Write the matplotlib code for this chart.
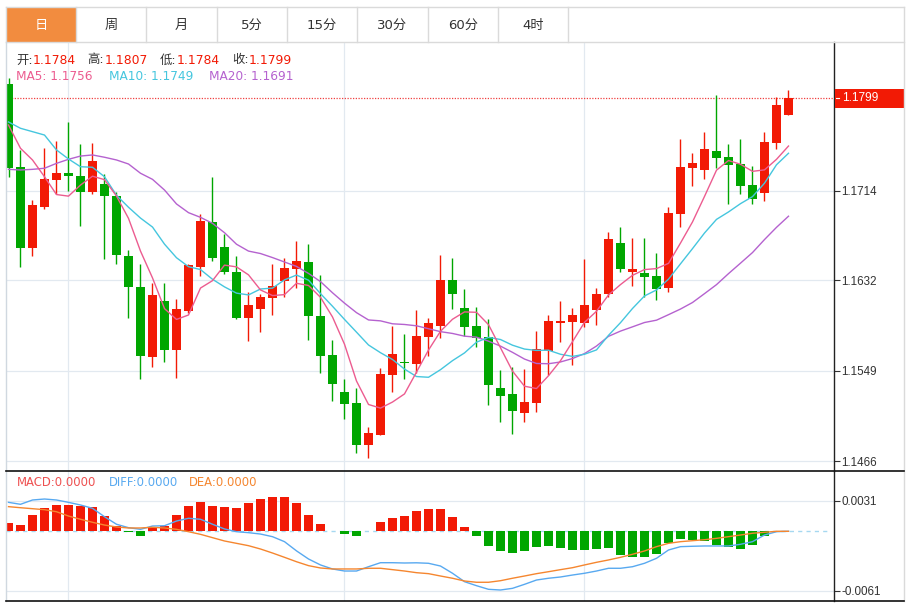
import numpy as np
import pandas as pd
import matplotlib
matplotlib.use("Agg")
import matplotlib.pyplot as plt
from matplotlib.patches import Rectangle
from matplotlib.transforms import blended_transform_factory

plt.rcParams['font.family'] = ['DejaVu Sans', 'Noto Sans CJK SC']

#%% data (daily candles, oldest first)
opens = [1.18123, 1.17363, 1.16619, 1.16993, 1.17244, 1.17305, 1.17275, 1.17128, 1.17202, 1.17094,
         1.16543, 1.16261, 1.15618, 1.16130, 1.15680, 1.16041, 1.16442, 1.16855, 1.16623, 1.16393,
         1.15976, 1.16053, 1.16160, 1.16316, 1.16421, 1.16491, 1.15992, 1.15634, 1.15294, 1.15190,
         1.14807, 1.14899, 1.15450, 1.15565, 1.15551, 1.15802, 1.15903, 1.16323, 1.16063, 1.15903,
         1.15796, 1.15333, 1.15273, 1.15104, 1.15190, 1.15673, 1.15930, 1.15934, 1.15925, 1.16047,
         1.16191, 1.16660, 1.16399, 1.16384, 1.16359, 1.16252, 1.16929, 1.17349, 1.17333, 1.17510,
         1.17450, 1.17388, 1.17195, 1.17122, 1.17578, 1.17840]
closes = [1.17354, 1.16619, 1.17009, 1.17250, 1.17305, 1.17281, 1.17128, 1.17416, 1.17091, 1.16552,
          1.16256, 1.15625, 1.16185, 1.15680, 1.16056, 1.16460, 1.16862, 1.16525, 1.16393, 1.15976,
          1.16093, 1.16169, 1.16267, 1.16436, 1.16497, 1.15992, 1.15625, 1.15365, 1.15184, 1.14807,
          1.14915, 1.15459, 1.15643, 1.15557, 1.15811, 1.15925, 1.16323, 1.16194, 1.15894, 1.15793,
          1.15358, 1.15260, 1.15122, 1.15202, 1.15686, 1.15946, 1.15949, 1.15998, 1.16090, 1.16194,
          1.16696, 1.16424, 1.16424, 1.16353, 1.16240, 1.16935, 1.17358, 1.17394, 1.17523, 1.17446,
          1.17379, 1.17186, 1.17069, 1.17590, 1.17930, 1.17990]
highs = [1.18178, 1.17517, 1.17057, 1.17532, 1.17602, 1.17771, 1.17569, 1.17578, 1.17293, 1.17128,
         1.16598, 1.16472, 1.16298, 1.16292, 1.16145, 1.16470, 1.16929, 1.17271, 1.16745, 1.16543,
         1.16215, 1.16194, 1.16470, 1.16525, 1.16681, 1.16653, 1.16369, 1.15771, 1.15411, 1.15328,
         1.14975, 1.15517, 1.15900, 1.15824, 1.16047, 1.15976, 1.16552, 1.16527, 1.16237, 1.16072,
         1.15964, 1.15496, 1.15521, 1.15502, 1.15857, 1.16001, 1.16130, 1.16065, 1.16513, 1.16246,
         1.16766, 1.16812, 1.16711, 1.16711, 1.16568, 1.16990, 1.17615, 1.17492, 1.17679, 1.18022,
         1.17572, 1.17615, 1.17370, 1.17685, 1.18006, 1.18070]
lows = [1.17271, 1.16445, 1.16543, 1.16972, 1.17112, 1.17143, 1.16821, 1.17115, 1.16513, 1.16470,
        1.15976, 1.15416, 1.15526, 1.15572, 1.15425, 1.16017, 1.16362, 1.16500, 1.16378, 1.15967,
        1.15762, 1.15848, 1.16001, 1.16169, 1.16246, 1.15771, 1.15466, 1.15211, 1.15043, 1.14731,
        1.14690, 1.14899, 1.15291, 1.15411, 1.15466, 1.15625, 1.15787, 1.16053, 1.15808, 1.15710,
        1.15174, 1.15021, 1.14908, 1.15018, 1.15113, 1.15450, 1.15756, 1.15542, 1.15888, 1.15909,
        1.16169, 1.16399, 1.16270, 1.16164, 1.16139, 1.16215, 1.16812, 1.17186, 1.17250, 1.17349,
        1.17021, 1.17112, 1.17021, 1.17051, 1.17526, 1.17840]

# MA values at the left edge (they depend on candles before the visible window)
ma5_head = [1.17746, 1.17532, 1.17425, 1.17271]
ma10_head = [1.17774, 1.17716, 1.17685, 1.17654, 1.17517, 1.17434, 1.17363, 1.17358, 1.17271]
ma20_head = [1.17339, 1.17333, 1.17339, 1.17349, 1.17394, 1.17431, 1.17461, 1.17471, 1.17450, 1.17425,
             1.17388, 1.17303, 1.17247, 1.17149, 1.17021, 1.16941, 1.16898, 1.16843, 1.16757]

macd = [0.00088, 0.00064, 0.0017, 0.00238, 0.00266, 0.00272, 0.00262, 0.00252, 0.00156, 0.00054,
        -0.00005, -0.00045, 0.0004, 0.00054, 0.00167, 0.00262, 0.003, 0.00262, 0.00245, 0.00235,
        0.00286, 0.00327, 0.0035, 0.00348, 0.00289, 0.0017, 0.00075, 0.00006, -0.0003, -0.0005,
        0.00005, 0.00098, 0.00139, 0.00156, 0.00204, 0.00228, 0.00231, 0.00146, 0.00044, -0.00045,
        -0.0015, -0.00198, -0.00225, -0.00204, -0.00157, -0.0015, -0.00174, -0.00188, -0.00188, -0.00181,
        -0.00174, -0.00239, -0.0026, -0.00263, -0.00229, -0.00123, -0.00079, -0.00089, -0.00099, -0.0014,
        -0.0016, -0.00178, -0.00143, -0.00048, 0.0, 0.0]
diff = [0.00296, 0.00276, 0.0032, 0.0033, 0.0032, 0.00296, 0.00269, 0.00235, 0.00149, 0.00072,
        0.00037, 0.0002, 0.00054, 0.00057, 0.00105, 0.00133, 0.00123, 0.00072, 0.00024, -0.00004,
        -0.00014, -0.00028, -0.00055, -0.00106, -0.002, -0.00283, -0.00344, -0.00385, -0.00406, -0.00406,
        -0.00362, -0.00321, -0.00321, -0.00324, -0.00322, -0.00327, -0.00355, -0.00429, -0.00515, -0.00556,
        -0.00593, -0.006, -0.00583, -0.00542, -0.00498, -0.0048, -0.00467, -0.00447, -0.00429, -0.00406,
        -0.00378, -0.00378, -0.00362, -0.00327, -0.00276, -0.00191, -0.00157, -0.00153, -0.0015, -0.0015,
        -0.0015, -0.00133, -0.00106, -0.00038, -0.00004, 0.0]
dea = [0.00252, 0.00241, 0.00231, 0.00221, 0.002, 0.00156, 0.00123, 0.00092, 0.00064, 0.00044,
       0.00034, 0.00034, 0.00041, 0.00034, 0.0002, -0.00004, -0.00031, -0.00065, -0.00099, -0.00123,
       -0.00147, -0.00181, -0.00222, -0.00266, -0.00311, -0.00351, -0.00375, -0.00385, -0.00385, -0.00385,
       -0.00378, -0.00378, -0.00392, -0.00406, -0.00423, -0.00433, -0.00457, -0.0048, -0.00508, -0.00521,
       -0.00521, -0.00505, -0.0048, -0.00457, -0.00433, -0.00413, -0.00392, -0.00372, -0.00344, -0.00317,
       -0.00293, -0.00266, -0.00235, -0.00201, -0.00157, -0.00123, -0.00106, -0.00096, -0.00086, -0.00072,
       -0.00055, -0.00038, -0.0002, -0.0001, 0.0, 0.0]

price_ticks = [1.1714, 1.1632, 1.1549, 1.1466]
macd_ticks = [0.0031, -0.0061]
macd_tick_labels = ["0.0031", "-0.0061"]
month_idx = [5, 28, 48]          # vertical grid lines
tabs = ["日", "周", "月", "5分", "15分", "30分", "60分", "4时"]
ohlc_names = ["开:", "高:", "低:", "收:"]
ma_names = ["MA5: 1.1756", "MA10: 1.1749", "MA20: 1.1691"]
macd_names = ["MACD:0.0000", "DIFF:0.0000", "DEA:0.0000"]

#%% colours
RED = "#F21A05"
GREEN = "#00A600"
C_MA5, C_MA10, C_MA20 = "#EC5C90", "#45C6DE", "#B562CF"
C_DIFF, C_DEA, C_MACD = "#58A9F0", "#F5862F", "#EE5050"
GRID = "#E2E9F0"
DARK = "#333333"

#%% derived series
def moving(vals, n, head):
    m = pd.Series(vals).rolling(n).mean().to_numpy()
    m[:len(head)] = head
    return m

ma5 = moving(closes, 5, ma5_head)
ma10 = moving(closes, 10, ma10_head)
ma20 = moving(closes, 20, ma20_head)

x = np.arange(len(opens))
o, h, l, c = map(np.array, (opens, highs, lows, closes))
macd = np.array(macd)

#%% layout (pixels of the 910x603 picture)
W, H = 910, 603
L, R = 5.7, 834
T_MAIN, B_MAIN, B_MACD = 42.3, 471.3, 601
STEP, X0 = 12.0, 8.5     # candle spacing and first candle centre, px
PPX = 9.185e-5           # price per pixel
MPX = 1.0222e-4          # macd units per pixel

fig = plt.figure(figsize=(9.1, 6.03), dpi=100)
ax = fig.add_axes([L / W, 1 - B_MAIN / H, (R - L) / W, (B_MAIN - T_MAIN) / H])
ax2 = fig.add_axes([L / W, 1 - B_MACD / H, (R - L) / W, (B_MACD - B_MAIN) / H])

xl = ((L - X0) / STEP, (R - X0) / STEP)
ylo = 1.1714 - (B_MAIN - 191) * PPX
yhi = 1.1714 + (191 - T_MAIN) * PPX

for a in (ax, ax2):
    a.set_xlim(*xl)
    a.set_facecolor("none")
    for s in ("top", "left", "bottom"):
        a.spines[s].set_visible(False)
    a.spines["right"].set_color("#222222")
    a.spines["right"].set_linewidth(1.0)
    a.yaxis.tick_right()
    a.set_xticks(month_idx)
    a.tick_params(axis="x", bottom=False, labelbottom=False)
    a.tick_params(axis="y", length=4, width=0.8, color=DARK, labelcolor=DARK,
                  labelsize=8.4, pad=1.5)
    a.grid(True, color=GRID, lw=0.9, zorder=0)
    a.set_axisbelow(True)

#%% main panel
ax.set_ylim(ylo, yhi)
ax.set_yticks(price_ticks)
ax.set_yticklabels(["%.4f" % p for p in price_ticks], family=["Liberation Sans"])

col = np.where(c >= o, RED, GREEN)
ax.vlines(x, l, h, colors=col, lw=1.0, zorder=3)
body = np.maximum(np.abs(c - o), 0.00008)
ax.bar(x, body, bottom=np.minimum(o, c), width=0.75, color=col, lw=0, zorder=4)

ax.plot(x, ma20, color=C_MA20, lw=1.0, zorder=5)
ax.plot(x, ma10, color=C_MA10, lw=1.0, zorder=5)
ax.plot(x, ma5, color=C_MA5, lw=1.0, zorder=5)

last = closes[-1]
ax.axhline(last, color="#F04040", lw=0.9, ls=(0, (1, 1.2)), zorder=2)
tr = blended_transform_factory(ax.transAxes, ax.transData)
half = 9.2 * PPX
bx0, bx1 = (835 - L) / (R - L), (904 - L) / (R - L)
ax.add_patch(Rectangle((bx0, last - half), bx1 - bx0, 2 * half, transform=tr,
                       facecolor=RED, edgecolor="none", clip_on=False, zorder=6))
ax.plot([(836 - L) / (R - L), (839.5 - L) / (R - L)], [last, last], transform=tr,
        color="white", lw=0.8, clip_on=False, zorder=7)
ax.text((842 - L) / (R - L), last, "%.4f" % last, transform=tr, color="white",
        fontsize=8.6, va="center", ha="left", family=["Liberation Sans"], zorder=7)

#%% macd panel
ax2.set_ylim(-(B_MACD - 531.3) * MPX, (531.3 - B_MAIN) * MPX)
ax2.set_yticks(macd_ticks)
ax2.set_yticklabels(macd_tick_labels, family=["Liberation Sans"])
ax2.axhline(0, xmax=(830.7 - L) / (R - L), color="#A6D8F0", lw=1.0,
            ls=(0, (3, 3)), zorder=1)
ax2.bar(x, macd, width=0.72, color=np.where(macd >= 0, RED, GREEN), lw=0, zorder=2)
ax2.plot(x, diff, color=C_DIFF, lw=1.0, zorder=3)
ax2.plot(x, dea, color=C_DEA, lw=1.0, zorder=3)

#%% tabs, frame and legends in picture pixels
ov = fig.add_axes([0, 0, 1, 1], zorder=5)
ov.set_xlim(0, W)
ov.set_ylim(H, 0)
ov.axis("off")
ov.patch.set_alpha(0)

TAB_X0, TAB_W, TAB_T, TAB_B = 5.8, 70.3, 6.7, 42.3
BORDER = "#DADADA"
ov.add_patch(Rectangle((TAB_X0 + 0.6, TAB_T + 0.6), TAB_W - 1.2, TAB_B - TAB_T - 1.2,
                       facecolor="#F28C3F", edgecolor="none"))
ov.plot([TAB_X0, 904], [TAB_T, TAB_T], color=BORDER, lw=1)
ov.plot([TAB_X0, 904], [TAB_B, TAB_B], color=BORDER, lw=1)
for k in range(len(tabs) + 1):
    xb = TAB_X0 + k * TAB_W
    ov.plot([xb, xb], [TAB_T, TAB_B], color=BORDER, lw=1)
for k, name in enumerate(tabs):
    ov.text(TAB_X0 + (k + 0.5) * TAB_W, 25, name, ha="center", va="center",
            fontsize=9.5, color="white" if k == 0 else DARK)

ov.plot([904, 904], [TAB_T, B_MACD], color=BORDER, lw=1)
ov.plot([L, L], [T_MAIN, B_MACD], color="#D0D8E0", lw=1)
ov.plot([L, 904], [B_MAIN, B_MAIN], color="#111111", lw=1.2)
ov.plot([L, 904], [B_MACD, B_MACD], color="#111111", lw=1.2)

ohlc_x = [16, 87.7, 159.6, 232]
for name, val, xp in zip(ohlc_names, [opens[-1], highs[-1], lows[-1], closes[-1]], ohlc_x):
    t = ov.text(xp, 60, name, color=DARK, fontsize=8.9, va="center")
    ov.annotate("%.4f" % val, xy=(1, 0.5), xycoords=t, va="center", ha="left",
                color=RED, fontsize=8.9)
for name, colr, xp in zip(ma_names, [C_MA5, C_MA10, C_MA20], [16.5, 108.8, 208.8]):
    ov.text(xp, 77, name, color=colr, fontsize=8.7, va="center")
for name, colr, xp in zip(macd_names, [C_MACD, C_DIFF, C_DEA], [16.7, 109.3, 189.3]):
    ov.text(xp, 482.3, name, color=colr, fontsize=8.4, va="center")

fig.savefig("out.png", dpi=100, facecolor="white")
